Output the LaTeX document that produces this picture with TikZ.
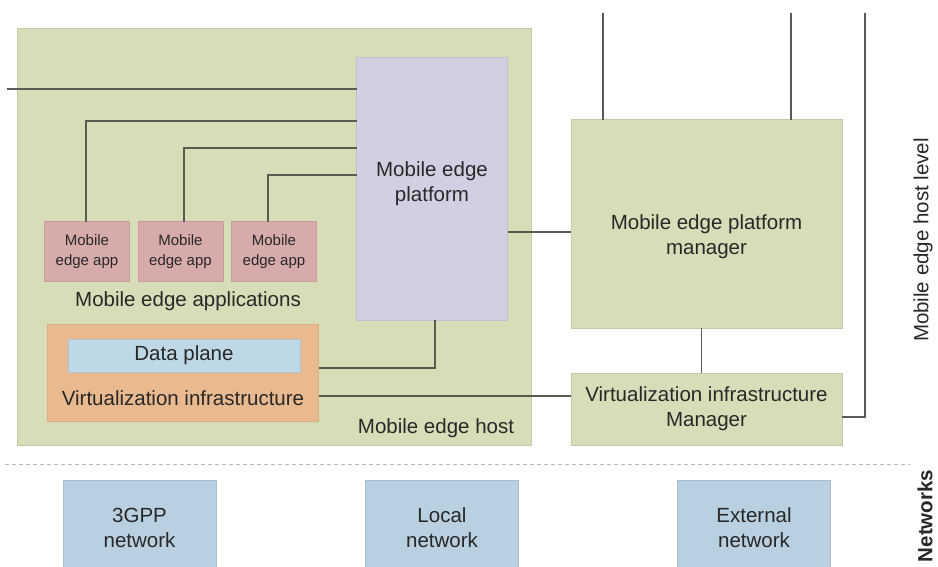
\documentclass[tikz,border=0pt]{standalone}
\usepackage{fontspec}
\setmainfont{Liberation Sans}
\definecolor{txt}{HTML}{282828}
\definecolor{wire}{HTML}{575C52}
\definecolor{hostfill}{HTML}{D6DDB7}
\definecolor{hostedge}{HTML}{C3CAA5}
\definecolor{platfill}{HTML}{D3CFE2}
\definecolor{platedge}{HTML}{C2BED2}
\definecolor{appfill}{HTML}{D6ABAA}
\definecolor{appedge}{HTML}{C89D9C}
\definecolor{vifill}{HTML}{E9B98F}
\definecolor{viedge}{HTML}{DBAB82}
\definecolor{dpfill}{HTML}{BFD8E6}
\definecolor{dpedge}{HTML}{A9C3D2}
\definecolor{netfill}{HTML}{B8D0DF}
\definecolor{netedge}{HTML}{A6BFCF}
\newcommand{\mainsize}{\fontsize{20.5}{25}\selectfont}
\newcommand{\appsize}{\fontsize{15}{20}\selectfont}
\begin{document}
\begin{tikzpicture}[x=1pt,y=-1pt,
  box/.style={draw, line width=1pt, inner sep=0pt, outer sep=0pt, align=center,
    text=txt, font=\mainsize},
  appbox/.style={box, fill=appfill, draw=appedge, minimum width=85, minimum height=59,
    font=\appsize},
  netbox/.style={box, fill=netfill, draw=netedge, minimum width=153, minimum height=95},
  mgrbox/.style={box, fill=hostfill, draw=hostedge, minimum width=271},
  lbl/.style={inner sep=0pt, text=txt, font=\mainsize, align=center},
  conn/.style={draw=wire, line width=1.3pt}]
\useasboundingbox (0,0) rectangle (938,567);
\clip (0,0) rectangle (938,567);
\fill[white] (0,0) rectangle (938,567);

% Mobile edge host and its contents
\node[box, fill=hostfill, draw=hostedge, minimum width=514, minimum height=416] (host) at (274,237) {};
\node[box, fill=platfill, draw=platedge, minimum width=151, minimum height=262] (plat) at (432,189) {};
\node[lbl] (platlbl) at (432,184) {Mobile edge\\platform};
\node[appbox] (app1) at (87,251.5) {Mobile\\edge app};
\node[appbox] (app2) at (180.5,251.5) {Mobile\\edge app};
\node[appbox] (app3) at (274,251.5) {Mobile\\edge app};
\node[lbl] (applbl) at (188,301) {Mobile edge applications};
\node[box, fill=vifill, draw=viedge, minimum width=271, minimum height=97] (vi) at (183,372.5) {};
\node[box, fill=dpfill, draw=dpedge, minimum width=232, minimum height=33] (dp) at (184,355.5) {Data plane};
\node[lbl] (vilbl) at (183,398) {Virtualization infrastructure};
\node[lbl] (hostlbl) at (436,428) {Mobile edge host};

% Managers
\node[mgrbox, minimum height=208] (pm) at (706.5,224) {};
\node[lbl] (pmlbl) at (706.5,237) {Mobile edge platform\\manager};
\node[mgrbox, minimum height=72] (vim) at (706.5,409) {Virtualization infrastructure\\Manager};

% Free ends of the reference points leaving the picture
\coordinate (lend) at (7,89);
\coordinate (t1) at (603,13);
\coordinate (t2) at (791,13);
\coordinate (t3) at (865,13);

% Reference points
\draw[conn] (lend) -- (lend -| plat.west);
\draw[conn] ([xshift=-1pt]app1.north) |- (plat.west |- 0,121);
\draw[conn] ([xshift=3.5pt]app2.north) |- (plat.west |- 0,148);
\draw[conn] ([xshift=-6pt]app3.north) |- (plat.west |- 0,175);
\draw[conn] (vi.east |- 0,368) -| ([xshift=3pt]plat.south);
\draw[conn] (vi.east |- 0,396) -- (vim.west |- 0,396);
\draw[conn] (plat.east |- 0,232) -- (pm.west |- 0,232);
\draw[conn] ([xshift=-5pt]pm.south) -- ([xshift=-5pt]vim.north);
\draw[conn] (t1) -- (t1 |- pm.north);
\draw[conn] (t2) -- (t2 |- pm.north);
\draw[conn] (t3) |- (vim.east |- 0,417);

% Level separator and networks
\coordinate (dl) at (5,464);
\coordinate (dr) at (910,464);
\draw[gray!55, line width=1pt, dash pattern=on 4pt off 3pt] (dl) -- (dr);
\node[netbox] (n3gpp) at (139.5,527.5) {3GPP\\network};
\node[netbox] (nloc) at (442,527.5) {Local\\network};
\node[netbox] (next) at (754,527.5) {External\\network};

% Level labels
\node[lbl, rotate=90] (lvlhost) at (923,240) {Mobile edge host level};
\node[lbl, rotate=90, font=\mainsize\bfseries] (lvlnet) at (925,516) {Networks};
\end{tikzpicture}
\end{document}
